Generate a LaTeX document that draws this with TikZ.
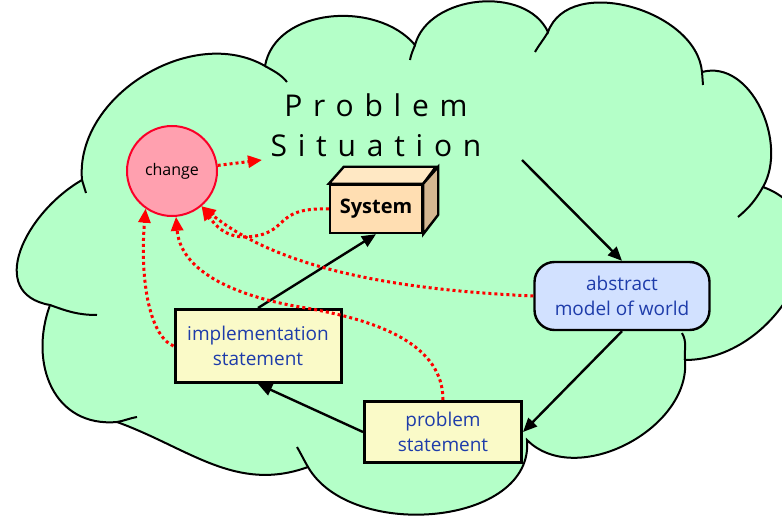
\documentclass[tikz,border=0pt]{standalone}
\usepackage{fontspec}
\setmainfont{Open Sans}
\newfontfamily\spacedfont[LetterSpace=36]{Open Sans}
\usetikzlibrary{arrows.meta}
\definecolor{cloudgreen}{RGB}{180,255,200}
\definecolor{changepink}{RGB}{255,160,175}
\definecolor{changered}{RGB}{250,0,40}
\definecolor{sysfront}{RGB}{255,222,178}
\definecolor{systop}{RGB}{255,232,196}
\definecolor{sysside}{RGB}{212,182,145}
\definecolor{stmtyellow}{RGB}{250,250,200}
\definecolor{modelblue}{RGB}{210,225,255}
\definecolor{textblue}{RGB}{30,60,170}
\tikzset{
  cloud/.style={draw=black, line width=1pt, fill=cloudgreen},
  stmt/.style={
    rectangle,
    draw=black, line width=1.5pt,
    fill=stmtyellow,
    text=textblue,
    align=center,
    font=\fontsize{9.5}{12.5}\selectfont,
  },
  model/.style={
    rectangle,
    rounded corners=10pt,
    draw=black, line width=1.2pt,
    fill=modelblue,
    text=textblue,
    align=center,
    font=\fontsize{9.5}{12.5}\selectfont,
  },
  changenode/.style={
    circle,
    draw=changered, line width=1pt,
    fill=changepink,
    minimum size=45pt,
    inner sep=0pt,
    font=\fontsize{8}{10}\selectfont,
  },
  sysbox/.style={
    rectangle,
    draw=black, line width=1.2pt,
    fill=sysfront,
    minimum width=46pt, minimum height=24pt,
    font=\bfseries\fontsize{10}{12}\selectfont,
  },
  reddot/.style={
    ->, draw=red, line width=1.5pt,
    dash pattern=on 1.5pt off 1.5pt,
  },
  flow/.style={->, line width=1.2pt},
}

\begin{document}
\begin{tikzpicture}[x=0.5pt,y=0.5pt,>={Triangle[length=7pt,width=6pt]}]
  \useasboundingbox (0,0) rectangle (782,515);
  % the cloud
  \path[cloud] (82,335) to[out=95,in=150] (265,449) to[out=80,in=130] (415,470)
    to[out=75,in=115] (548,483) to[out=70,in=95] (702,443)
    to[out=15,in=60] (763,328) to[out=-20,in=0,looseness=1.3] (685,155)
    to[out=-85,in=-45] (527,75) to[out=-85,in=-60] (308,48)
    to[out=200,in=-20] (117,93) to[out=185,in=-110,looseness=1.2] (50,210)
    to[out=170,in=210,looseness=1.3] (82,335) -- cycle;
  \draw[line width=1pt] (82,335) -- (86,322);
  \draw[line width=1pt] (265,449) to[out=-30,in=130] (287,433);
  \draw[line width=1pt] (415,470) to[out=-110,in=80] (410,455);
  \draw[line width=1pt] (548,483) to[out=-120,in=60] (535,463);
  \draw[line width=1pt] (702,443) -- (703,430);
  \draw[line width=1pt] (763,328) to[out=-120,in=40] (738,298);
  \draw[line width=1pt] (685,155) to[out=95,in=-60] (682,182);
  \draw[line width=1pt] (308,48) to[out=120,in=-60] (297,68);
  \draw[line width=1pt] (117,93) to[out=10,in=190] (137,98);
  \draw[line width=1pt] (50,210) to[out=-20,in=180] (97,200);

  % title
  \node[align=center, font=\spacedfont\fontsize{15}{20}\selectfont] (ttl) at (376,390)
    {Problem\\Situation};
  \coordinate (ttlout) at (522,355);
  \coordinate (chgout) at (262,355);

  % nodes
  \node[changenode] (chg) at (172,344) {change};
  \node[sysbox] (sys) at (376,306) {System};
  \draw[line width=1.2pt, fill=systop] (sys.north west) -- ++(15,17) -- ++(92,0)
    -- (sys.north east) -- cycle;
  \draw[line width=1.2pt, fill=sysside] (sys.north east) -- ++(15,17) -- ++(0,-48)
    -- (sys.south east) -- cycle;
  \node[model, minimum width=87.5pt, minimum height=34pt] (abs) at (622,219)
    {abstract\\model of world};
  \node[stmt, minimum width=83pt, minimum height=36.5pt] (imp) at (258,169)
    {implementation\\statement};
  \node[stmt, minimum width=78.5pt, minimum height=30.5pt] (prb) at (443,83)
    {problem\\statement};

  % black flow
  \draw[flow] (ttlout) -- (abs.north);
  \draw[flow] (abs.south) -- (prb.east);
  \draw[flow] (prb.west) -- (imp.south);
  \draw[flow] (imp.north) -- (sys.south);

  % red dotted influence
  \draw[reddot] (chg) -- (chgout);
  \draw[reddot] (sys.west) .. controls (270,308) and (292,280) .. (245,278)
    .. controls (225,278) and (215,290) .. (chg.310);
  \draw[reddot] (abs.west) .. controls (400,225) and (280,245) .. (chg.310);
  \draw[reddot] (prb.north) .. controls (443,170) and (380,195) .. (300,208)
    .. controls (220,222) and (180,250) .. (chg.275);
  \draw[reddot] (imp.west) .. controls (148,180) and (140,240) .. (chg.235);
\end{tikzpicture}
\end{document}
